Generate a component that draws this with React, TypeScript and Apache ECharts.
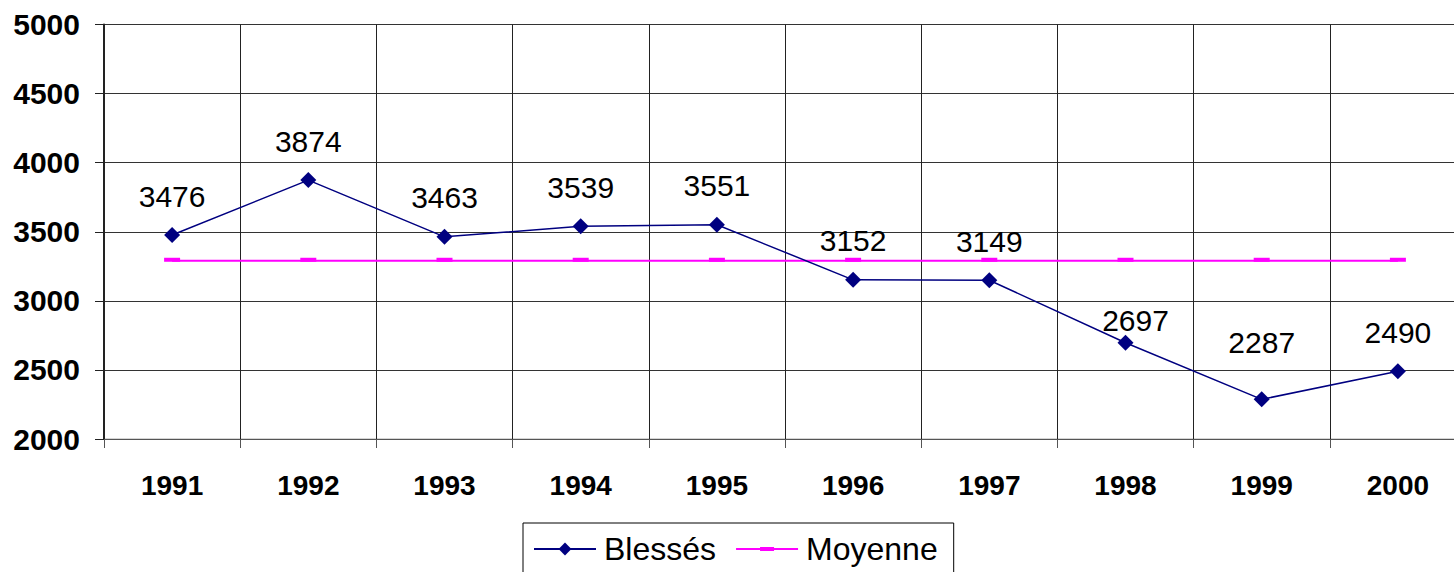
import React, { useEffect, useRef } from "react";
import * as echarts from "echarts";

const years = ["1991", "1992", "1993", "1994", "1995", "1996", "1997", "1998", "1999", "2000"];
const blesses = [3476, 3874, 3463, 3539, 3551, 3152, 3149, 2697, 2287, 2490];
const moyenneValue = 3290;
const moyenne = years.map(() => moyenneValue);
const yTicks = { min: 2000, max: 5000, interval: 500 };

// label offsets (style only) per point
const labelOffsets: [number, number][] = [
  [0, 0], [0, 0], [0, 0], [0, 0], [0, 0], [0, 0], [0, 0], [10, 17], [0, -18], [0, 0],
];

const FONT = "'Liberation Sans', Arial, Helvetica, sans-serif";
const MOY_ICON = "path://M0,7 L62,7 L62,9 L0,9 Z M24,6 L38,6 L38,10 L24,10 Z";

export default function App() {
  const ref = useRef<HTMLDivElement>(null);
  useEffect(() => {
    if (!ref.current) return;
    const chart = echarts.init(ref.current, null, { renderer: "svg" });
    chart.setOption({
      animation: false,
      backgroundColor: "#ffffff",
      textStyle: { fontFamily: FONT },
      grid: { left: 104, top: 24.5, bottom: 133, right: 0, show: true, borderColor: "#aaaaaa", borderWidth: 1 },
      legend: {
        left: 523,
        top: 523,
        borderColor: "#000000",
        borderWidth: 1,
        padding: [10, 16, 10, 10],
        itemWidth: 62,
        itemHeight: 16,
        itemGap: 20,
        textStyle: { fontSize: 32, fontFamily: FONT, color: "#000", padding: [0, 0, 0, 3] },
        data: [
          { name: "Blessés" },
          { name: "Moyenne", icon: MOY_ICON },
        ],
      },
      xAxis: {
        type: "category",
        data: years,
        boundaryGap: true,
        axisLine: { lineStyle: { color: "#555555", width: 1 } },
        axisTick: { show: true, interval: 0, length: 9, lineStyle: { color: "#555555" } },
        axisLabel: { interval: 0, margin: 32, fontSize: 28, fontWeight: "bold", color: "#000", fontFamily: FONT },
        splitLine: { show: true, interval: 0, lineStyle: { color: "#222222", width: 1 } },
      },
      yAxis: {
        type: "value",
        min: yTicks.min,
        max: yTicks.max,
        interval: yTicks.interval,
        axisLine: { show: true, lineStyle: { color: "#222222", width: 2 } },
        axisTick: { show: true, length: 9, lineStyle: { color: "#222222" } },
        axisLabel: {
          margin: 24,
          fontSize: 30,
          fontWeight: "bold",
          color: "#000",
          fontFamily: FONT,
          formatter: (v: number) => String(v),
        },
        splitLine: { show: true, lineStyle: { color: "#333333", width: 1 } },
      },
      series: [
        {
          name: "Blessés",
          type: "line",
          data: blesses.map((v, i) => ({
            value: v,
            label: { offset: labelOffsets[i] },
          })),
          symbol: "diamond",
          symbolSize: 16,
          lineStyle: { color: "#000080", width: 1.5 },
          itemStyle: { color: "#000080" },
          label: {
            show: true,
            position: "top",
            distance: 16,
            fontSize: 30,
            color: "#000",
            fontFamily: FONT,
          },
          z: 3,
        },
        {
          name: "Moyenne",
          type: "line",
          data: moyenne,
          symbol: "rect",
          symbolSize: [16, 4],
          symbolOffset: [0, -1],
          lineStyle: { color: "#ff00ff", width: 2 },
          itemStyle: { color: "#ff00ff" },
          z: 2,
        },
      ],
    });
    return () => chart.dispose();
  }, []);
  return (
    <div style={{ position: "absolute", left: 0, top: 0, width: 1454, height: 572, overflow: "hidden" }}>
      <div ref={ref} style={{ position: "absolute", left: 0, top: 0, width: 1466, height: 572 }} />
    </div>
  );
}
